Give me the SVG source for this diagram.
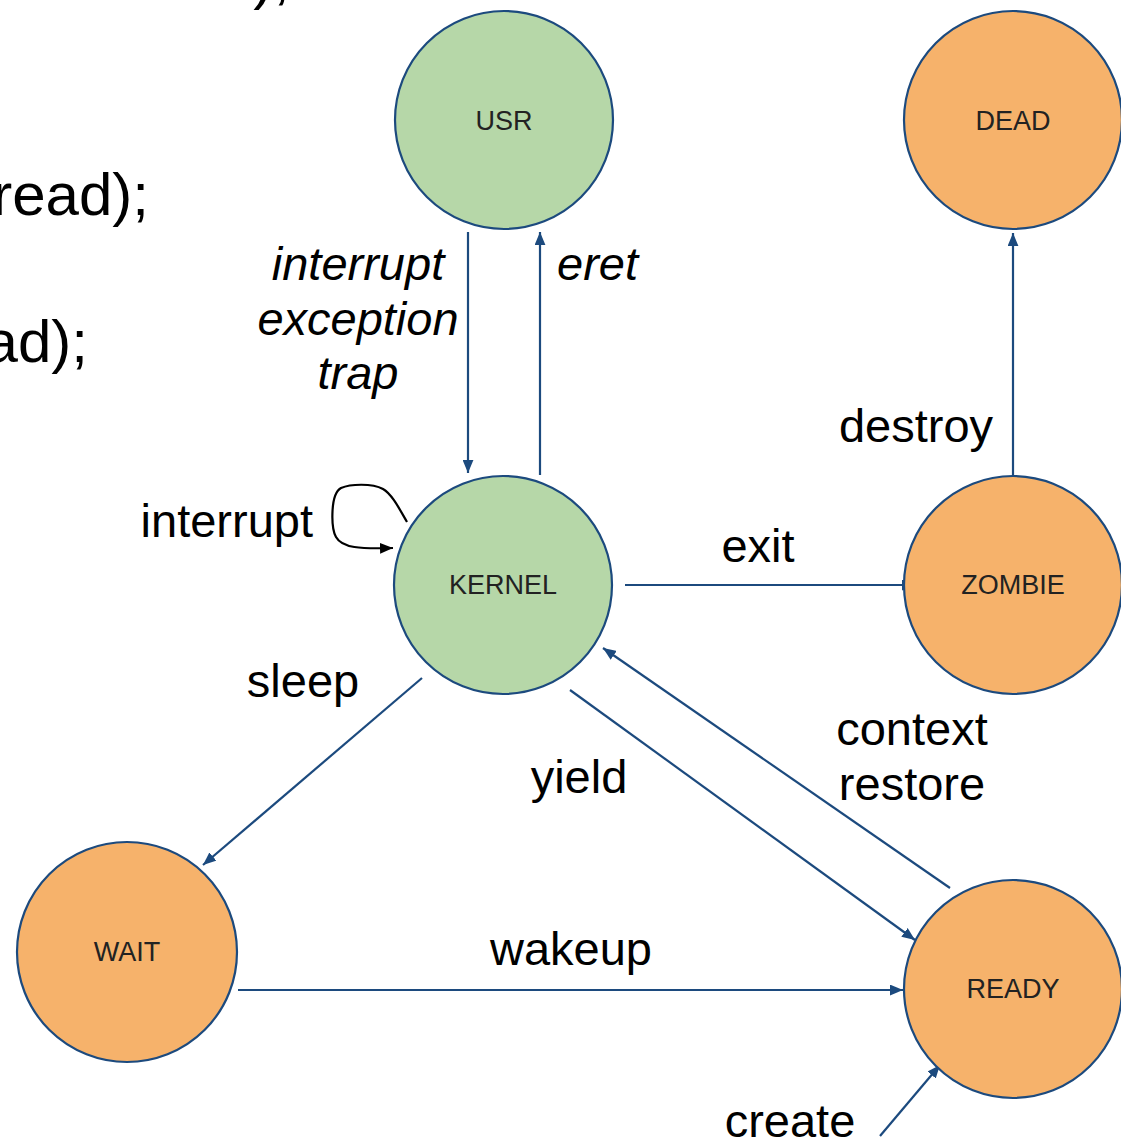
<svg xmlns="http://www.w3.org/2000/svg" width="1121" height="1140" viewBox="0 0 1121 1140">
<style>
.txt{font-family:"Liberation Sans",Arial,sans-serif;fill:#000}
.lbl{font-size:47px}
.it{font-style:italic}
.big{font-size:60px}
.node{font-family:"Liberation Sans",Arial,sans-serif;font-size:27px;fill:#222;text-anchor:middle}
.green{fill:#b6d7a8;stroke:#1c4a7e;stroke-width:2.2}
.orange{fill:#f6b26b;stroke:#1c4a7e;stroke-width:2.2}
.edge{stroke:#1c4a7e;stroke-width:2.2;fill:none;marker-end:url(#ah)}
.loop{stroke:#000;stroke-width:2.2;fill:none;marker-end:url(#ahk)}
</style>
<defs>
<marker id="ah" viewBox="0 0 12 10" refX="12" refY="5" markerWidth="13" markerHeight="11" markerUnits="userSpaceOnUse" orient="auto">
<path d="M0,0 L12,5 L0,10 Z" fill="#1c4a7e"/>
</marker>
<marker id="ahk" viewBox="0 0 12 10" refX="12" refY="5" markerWidth="13" markerHeight="11" markerUnits="userSpaceOnUse" orient="auto">
<path d="M0,0 L12,5 L0,10 Z" fill="#000"/>
</marker>
</defs>
<rect width="1121" height="1140" fill="#fff"/>
<g id="background-text">
<text class="txt big" x="290" y="-2" text-anchor="end">),</text>
<text class="txt big" x="149" y="215" text-anchor="end">read);</text>
<text class="txt big" x="88" y="362" text-anchor="end">ad);</text>
</g>
<g id="connectors">
<line class="edge" x1="468" y1="232" x2="468" y2="473"/>
<line class="edge" x1="540" y1="475" x2="540" y2="232"/>
<line class="edge" x1="625" y1="585" x2="915" y2="585"/>
<line class="edge" x1="1013" y1="475" x2="1013" y2="233"/>
<line class="edge" x1="422" y1="678" x2="203" y2="865"/>
<line class="edge" x1="570" y1="690" x2="915" y2="940"/>
<line class="edge" x1="950" y1="888" x2="603" y2="648"/>
<line class="edge" x1="238" y1="990" x2="903" y2="990"/>
<line class="edge" x1="880" y1="1136" x2="940" y2="1065"/>
<path class="loop" d="M407,522 C400,510 392,494 383,489 C372,483 350,484 341,488 C330,494 331,528 336,537 C342,548 360,549 393,548"/>
<text class="txt lbl it" x="358" y="280" text-anchor="middle">interrupt</text>
<text class="txt lbl it" x="358" y="335" text-anchor="middle">exception</text>
<text class="txt lbl it" x="358" y="389" text-anchor="middle">trap</text>
<text class="txt lbl it" x="557" y="280">eret</text>
<text class="txt lbl" x="916" y="442" text-anchor="middle">destroy</text>
<text class="txt lbl" x="313" y="537" text-anchor="end">interrupt</text>
<text class="txt lbl" x="758" y="562" text-anchor="middle">exit</text>
<text class="txt lbl" x="303" y="697" text-anchor="middle">sleep</text>
<text class="txt lbl" x="579" y="793" text-anchor="middle">yield</text>
<text class="txt lbl" x="912" y="745" text-anchor="middle">context</text>
<text class="txt lbl" x="912" y="800" text-anchor="middle">restore</text>
<text class="txt lbl" x="571" y="965" text-anchor="middle">wakeup</text>
<text class="txt lbl" x="790" y="1137" text-anchor="middle">create</text>
</g>
<g id="USR">
<circle class="green" cx="504" cy="120" r="109"/>
<text class="node" x="504" y="130">USR</text>
</g>
<g id="DEAD">
<circle class="orange" cx="1013" cy="120" r="109"/>
<text class="node" x="1013" y="130">DEAD</text>
</g>
<g id="KERNEL">
<circle class="green" cx="503" cy="585" r="109"/>
<text class="node" x="503" y="594">KERNEL</text>
</g>
<g id="ZOMBIE">
<circle class="orange" cx="1013" cy="585" r="109"/>
<text class="node" x="1013" y="594">ZOMBIE</text>
</g>
<g id="WAIT">
<circle class="orange" cx="127" cy="952" r="110"/>
<text class="node" x="127" y="961">WAIT</text>
</g>
<g id="READY">
<circle class="orange" cx="1013" cy="989" r="109"/>
<text class="node" x="1013" y="998">READY</text>
</g>
</svg>
